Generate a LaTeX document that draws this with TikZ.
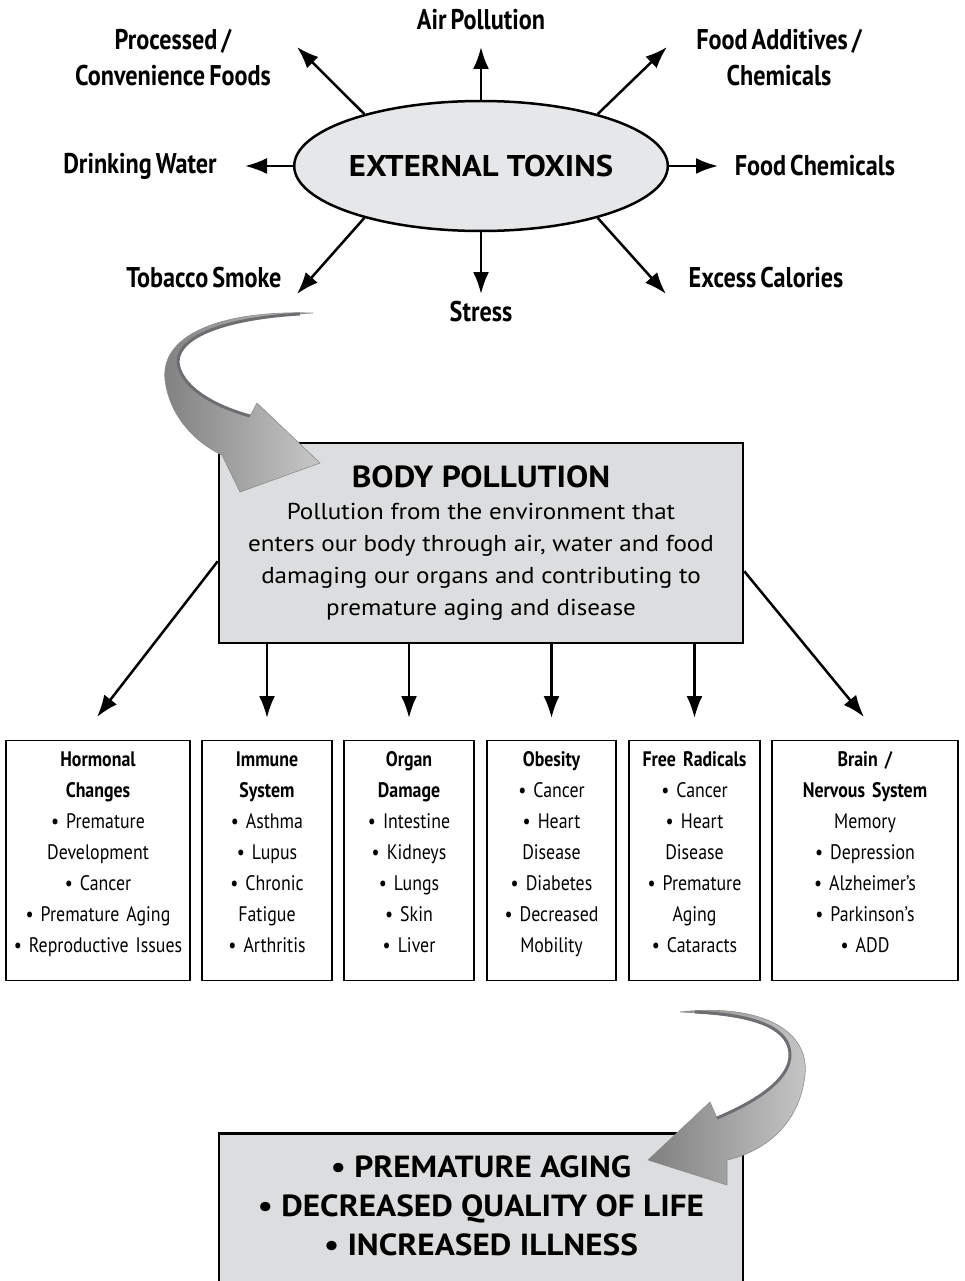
\documentclass[tikz,border=0pt]{standalone}
\usepackage{fontspec}
\setmainfont{PT Sans}
\newfontfamily\condfont[FakeStretch=0.85, WordSpace=0.65]{PT Sans}
\newfontfamily\widefont[FakeStretch=1.09]{PT Sans}
\usetikzlibrary{shapes.geometric,arrows.meta,calc}
\definecolor{lite}{HTML}{E6E7E8}
\definecolor{boxgray}{HTML}{DCDDDE}
\definecolor{edge}{HTML}{6D6E71}
\newcommand\boxpad[1]{\\[#1]\mbox{}}

\tikzset{
	lbl/.style={font=\condfont\bfseries\fontsize{28.5}{36}\selectfont, align=center},
	arr/.style={line width=2.5pt, -{Latex[length=22pt,width=16pt]}},
	listbox/.style={draw, line width=1.2pt, anchor=north, minimum height=240pt, inner xsep=2pt, align=center, font=\condfont\fontsize{21}{31}\selectfont},
	bigbox/.style={draw, line width=2.5pt, fill=boxgray, minimum width=524pt, align=center, inner sep=0pt},
	curl/.style={left color=black!50, right color=black!22, draw=black!45, line width=0.6pt}
}

\begin{document}
\begin{tikzpicture}[x=1pt, y=-1pt]
	\useasboundingbox (0,0) rectangle (964,1281);

	% external toxins
	\node[ellipse, draw, line width=2.5pt, fill=lite, minimum width=366pt, minimum height=130pt, inner sep=0pt,
		font=\widefont\bfseries\fontsize{30}{32}\selectfont] (toxins) at (481,166) {EXTERNAL TOXINS};

	\node[lbl] (air) at (481,20) {Air Pollution};
	\node[lbl] (proc) at (173,58) {Processed /\\Convenience Foods};
	\node[lbl] (addit) at (779,58) {Food Additives /\\Chemicals};
	\node[lbl] (water) at (140,166) {Drinking Water};
	\node[lbl] (chem) at (815,166) {Food Chemicals};
	\node[lbl] (tobacco) at (204,278) {Tobacco Smoke};
	\node[lbl] (stress) at (481,312) {Stress};
	\node[lbl] (calories) at (766,278) {Excess Calories};

	\coordinate (tAir) at (481,47);
	\coordinate (tProc) at (297,47);
	\coordinate (tAddit) at (667,47);
	\coordinate (tWater) at (245,166);
	\coordinate (tChem) at (718,166);
	\coordinate (tTobacco) at (297,294);
	\coordinate (tStress) at (481,294);
	\coordinate (tCalories) at (666,294);

	\draw[arr] (toxins.north) -- (tAir);
	\draw[arr] (toxins.156) -- (tProc);
	\draw[arr] (toxins.24) -- (tAddit);
	\draw[arr] (toxins.west) -- (tWater);
	\draw[arr] (toxins.east) -- (tChem);
	\draw[arr] (toxins.204) -- (tTobacco);
	\draw[arr] (toxins.south) -- (tStress);
	\draw[arr] (toxins.336) -- (tCalories);

	% body pollution
	\node[bigbox, minimum height=200pt, font=\widefont\fontsize{23}{32}\selectfont] (body) at (481,543)
		{{\bfseries\fontsize{30.5}{32}\selectfont BODY POLLUTION}\\
		Pollution from the environment that\\
		enters our body through air, water and food\\
		damaging our organs and contributing to\\
		premature aging and disease};

	% effects
	\node[listbox, text width=180pt] (hormonal) at (98,740)
		{\textbf{Hormonal}\\\textbf{Changes}\\\textbullet\ Premature\\Development\\\textbullet\ Cancer\\\textbullet\ Premature Aging\\\textbullet\ Reproductive Issues\boxpad{-14pt}};
	\node[listbox, text width=126pt] (immune) at (267,740)
		{\textbf{Immune}\\\textbf{System}\\\textbullet\ Asthma\\\textbullet\ Lupus\\\textbullet\ Chronic\\Fatigue\\\textbullet\ Arthritis\boxpad{-14pt}};
	\node[listbox, text width=126pt] (organ) at (409,740)
		{\textbf{Organ}\\\textbf{Damage}\\\textbullet\ Intestine\\\textbullet\ Kidneys\\\textbullet\ Lungs\\\textbullet\ Skin\\\textbullet\ Liver\boxpad{-14pt}};
	\node[listbox, text width=125pt] (obesity) at (551.5,740)
		{\textbf{Obesity}\\\textbullet\ Cancer\\\textbullet\ Heart\\Disease\\\textbullet\ Diabetes\\\textbullet\ Decreased\\Mobility\boxpad{-14pt}};
	\node[listbox, text width=127pt] (radicals) at (694.5,740)
		{\textbf{Free Radicals}\\\textbullet\ Cancer\\\textbullet\ Heart\\Disease\\\textbullet\ Premature\\Aging\\\textbullet\ Cataracts\boxpad{-14pt}};
	\node[listbox, text width=182pt] (brain) at (865,740)
		{\textbf{Brain /}\\\textbf{Nervous System}\\Memory\\\textbullet\ Depression\\\textbullet\ Alzheimer’s\\\textbullet\ Parkinson’s\\\textbullet\ ADD\boxpad{-14pt}};

	\draw[arr] ($(body.south west)+(0,-83)$) -- ($(hormonal.north)+(-1,-23)$);
	\draw[arr] (immune |- body.south) -- ($(immune.north)+(0,-22)$);
	\draw[arr] (organ |- body.south) -- ($(organ.north)+(0,-22)$);
	\draw[arr] (obesity |- body.south) -- ($(obesity.north)+(0,-22)$);
	\draw[arr] (radicals |- body.south) -- ($(radicals.north)+(0,-22)$);
	\draw[arr] ($(body.south east)+(0,-73)$) -- ($(brain.north)+(-1,-23)$);

	% result
	\node[bigbox, anchor=north, minimum height=170pt, font=\widefont\bfseries\fontsize{30.5}{39}\selectfont] (result) at (481,1132)
		{\textbullet\ PREMATURE AGING\\\textbullet\ DECREASED QUALITY OF LIFE\\\textbullet\ INCREASED ILLNESS\boxpad{-14pt}};

	% curved arrows
	\draw[curl] (313,313) .. controls (220,310) and (160,335) .. (165,380)
		.. controls (170,420) and (200,445) .. (222,455) -- (240,492) -- (320,463) -- (257,403) -- (250,416)
		.. controls (210,405) and (180,385) .. (178,362) .. controls (178,335) and (230,318) .. (313,313) -- cycle;
	\draw[edge, line width=3pt] (250,416) .. controls (210,405) and (180,385) .. (178,362) .. controls (178,335) and (230,318) .. (300,314);

	\draw[curl] (680,1012) .. controls (760,1003) and (810,1030) .. (805,1075)
		.. controls (800,1120) and (770,1150) .. (727,1160) -- (727,1185) -- (648,1160) -- (710,1102) -- (717,1118)
		.. controls (760,1100) and (790,1078) .. (790,1055) .. controls (790,1030) and (760,1015) .. (680,1012) -- cycle;
	\draw[edge, line width=3pt] (717,1118) .. controls (760,1100) and (790,1078) .. (790,1055) .. controls (790,1030) and (760,1015) .. (695,1012);
\end{tikzpicture}
\end{document}
